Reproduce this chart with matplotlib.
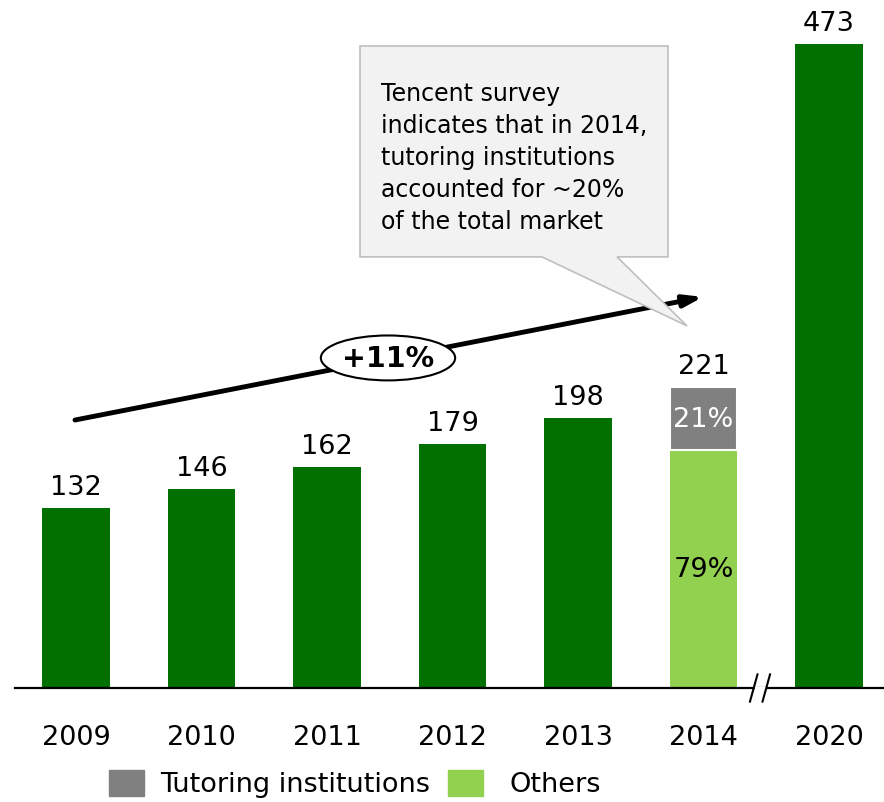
import matplotlib
matplotlib.use("Agg")
import matplotlib.pyplot as plt
from matplotlib.patches import Ellipse, Polygon, Rectangle

# market size by year (2014 split into tutoring vs others)
years = ["2009", "2010", "2011", "2012", "2013", "2014", "2020"]
totals = [132, 146, 162, 179, 198, 221, 473]
share_tutoring = 0.21
share_others = 0.79
cagr_label = "+11%"
note = ("Tencent survey\nindicates that in 2014,\ntutoring institutions\n"
        "accounted for ~20%\nof the total market")
legend_labels = ["Tutoring institutions", "Others"]

dark_green = "#007000"
light_green = "#92D050"
grey = "#808080"

plt.rcParams['font.family'] = ['DejaVu Sans']

fig = plt.figure(figsize=(8.84, 8.03), dpi=100)
ax = fig.add_axes([15 / 884, 1 - 689 / 803, (884 - 15) / 884, 689 / 803])
ax.set_xlim(-0.486, 6.438)
ax.set_ylim(0, 506)

x = list(range(len(years)))
w = 0.54
fs = 19.5

# plain green bars for every year except 2014
for i, (xi, v) in enumerate(zip(x, totals)):
    if years[i] == "2014":
        continue
    ax.bar(xi, v, width=w, color=dark_green, zorder=2)
    ax.text(xi, v + 6, str(v), ha="center", va="bottom", fontsize=fs)

# 2014 stacked bar
i14 = years.index("2014")
t14 = totals[i14]
others = t14 * share_others
tutor = t14 * share_tutoring
ax.bar(i14, others, width=w, color=light_green, zorder=2)
ax.bar(i14, tutor, bottom=others, width=w, color=grey, zorder=2,
       edgecolor="white", linewidth=1.5)
ax.text(i14, t14 + 6, str(t14), ha="center", va="bottom", fontsize=fs)
ax.text(i14, others + tutor / 2, f"{share_tutoring:.0%}", ha="center",
        va="center", fontsize=fs, color="white")
ax.text(i14, others / 2, f"{share_others:.0%}", ha="center",
        va="center", fontsize=fs, color="black")

for s in ["top", "left", "right"]:
    ax.spines[s].set_visible(False)
ax.spines["bottom"].set_linewidth(1.6)
ax.set_yticks([])
ax.set_xticks(x)
ax.set_xticklabels(years, fontsize=fs)
ax.tick_params(axis="x", length=0, pad=26)

# axis break between 2014 and 2020
for bx in (5.4, 5.5):
    ax.plot([bx - 0.03, bx + 0.03], [-10, 10], color="black", lw=1.5,
            clip_on=False, zorder=5)
ax.plot([5.42, 5.48], [0, 0], color="white", lw=2.5, clip_on=False, zorder=4)

# growth arrow with CAGR bubble
ax.annotate("", xy=(4.996, 287.2), xytext=(-0.008, 196.8),
            arrowprops=dict(arrowstyle="-|>,head_length=1.1,head_width=0.35",
                            lw=3.5, color="black", shrinkA=0, shrinkB=0),
            zorder=3)
ax.add_patch(Ellipse((2.486, 242.4), 1.07, 33, facecolor="white",
                     edgecolor="black", lw=1.5, zorder=4))
ax.text(2.486, 242.4, cagr_label, ha="center", va="center", fontsize=20.5,
        fontweight="bold", zorder=5)

# callout box pointing at 2014
callout = [(2.263, 471.5), (4.717, 471.5), (4.717, 316.6), (4.311, 316.6),
           (4.869, 265.9), (3.713, 316.6), (2.263, 316.6)]
ax.add_patch(Polygon(callout, closed=True, facecolor="#F2F2F2",
                     edgecolor="#BFBFBF", lw=1.2, zorder=6))
ax.text(2.43, 446, note, ha="left", va="top", fontsize=17, zorder=7,
        linespacing=1.43)

# legend drawn in figure pixels
W, H = 884, 803
swatches = [(109, grey), (448, light_green)]
text_x = [160, 510]
for (sx, c), tx, lab in zip(swatches, text_x, legend_labels):
    fig.patches.append(Rectangle((sx / W, 1 - 797 / H), 35 / W, 26 / H,
                                 transform=fig.transFigure, color=c))
    fig.text(tx / W, 1 - 785 / H, lab, ha="left", va="center", fontsize=fs)

fig.savefig("out.png", dpi=100)
